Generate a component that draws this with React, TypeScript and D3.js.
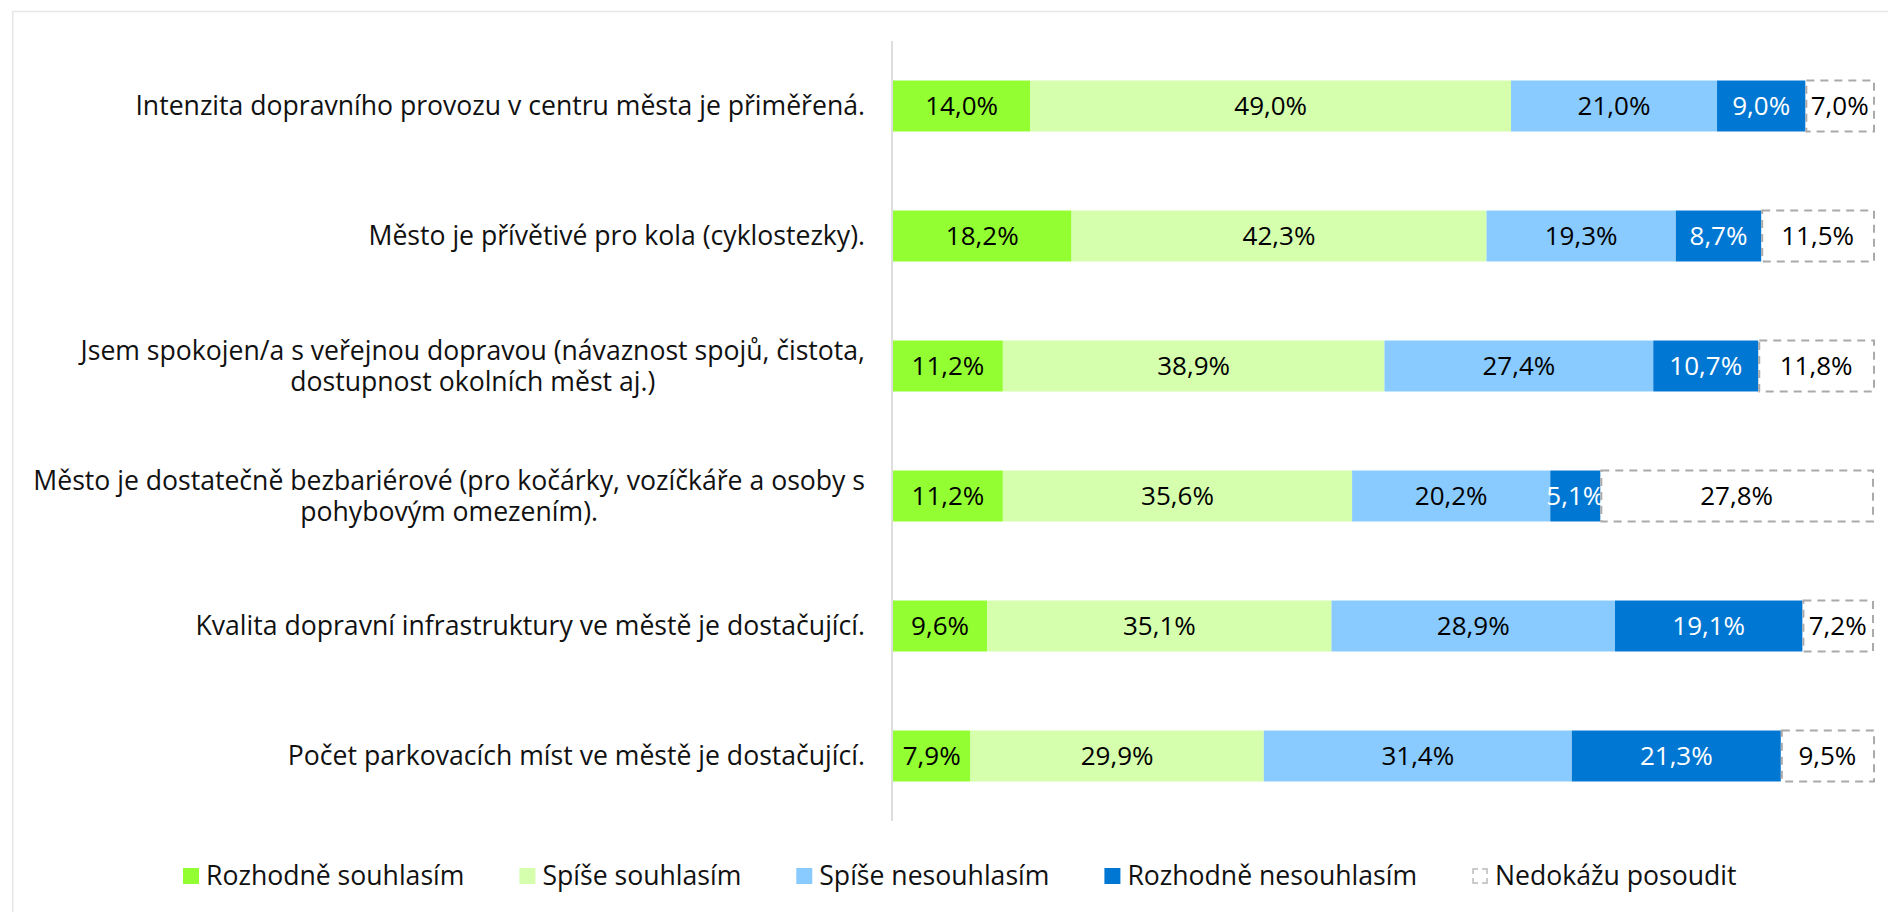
import React, { useEffect, useRef } from "react";
import * as d3 from "d3";

const categories = [
  "Intenzita dopravního provozu v centru města je přiměřená.",
  "Město je přívětivé pro kola (cyklostezky).",
  "Jsem spokojen/a s veřejnou dopravou (návaznost spojů, čistota,|dostupnost okolních měst aj.)",
  "Město je dostatečně bezbariérové (pro kočárky, vozíčkáře a osoby s|pohybovým omezením).",
  "Kvalita dopravní infrastruktury ve městě je dostačující.",
  "Počet parkovacích míst ve městě je dostačující.",
];

const seriesNames = [
  "Rozhodně souhlasím",
  "Spíše souhlasím",
  "Spíše nesouhlasím",
  "Rozhodně nesouhlasím",
  "Nedokážu posoudit",
];

const rozhodneSouhlasim = [14.0, 18.2, 11.2, 11.2, 9.6, 7.9];
const spiseSouhlasim = [49.0, 42.3, 38.9, 35.6, 35.1, 29.9];
const spiseNesouhlasim = [21.0, 19.3, 27.4, 20.2, 28.9, 31.4];
const rozhodneNesouhlasim = [9.0, 8.7, 10.7, 5.1, 19.1, 21.3];
const nedokazuPosoudit = [7.0, 11.5, 11.8, 27.8, 7.2, 9.5];

const seriesValues = [
  rozhodneSouhlasim,
  spiseSouhlasim,
  spiseNesouhlasim,
  rozhodneNesouhlasim,
  nedokazuPosoudit,
];

const colors = ["#93ff33", "#d5ffad", "#89caff", "#0077d2", "#ffffff"];
const textColors = ["#000", "#000", "#000", "#fff", "#000"];

const W = 1888;
const H = 912;
const FONT = "'Open Sans', sans-serif";

const fmt = (v: number) => v.toFixed(1).replace(".", ",") + "%";

const App = () => {
  const ref = useRef<SVGSVGElement>(null);

  useEffect(() => {
    const svg = d3.select(ref.current);
    svg.selectAll("*").remove();

    // frame
    svg.append("path")
      .attr("d", `M12.75,${H} V11.5 H${W}`)
      .attr("fill", "none")
      .attr("stroke", "#e8e8e8")
      .attr("stroke-width", 1.6);

    const x = d3.scaleLinear().domain([0, 100]).range([893, 1874]);
    const y = d3.scaleBand<number>()
      .domain(d3.range(categories.length))
      .range([41, 821])
      .paddingInner(0.608)
      .paddingOuter(0.304);

    // axis line
    svg.append("line")
      .attr("x1", 892).attr("x2", 892)
      .attr("y1", 41).attr("y2", 821)
      .attr("stroke", "#d9d9d9")
      .attr("stroke-width", 1.7);

    // category labels, each block right-aligned, lines centred in the block
    const labelRight = 865;
    categories.forEach((c, i) => {
      const lines = c.split("|");
      const cy = y(i)! + y.bandwidth() / 2;
      const g = svg.append("g");
      const texts = lines.map((ln, k) =>
        g.append("text")
          .attr("y", cy + (k - (lines.length - 1) / 2) * 31)
          .attr("dy", "0.35em")
          .attr("font-family", FONT)
          .attr("font-size", 26.6)
          .attr("fill", "#111")
          .attr("text-anchor", "middle")
          .text(ln)
      );
      const widths = texts.map((t) => (t.node() as SVGTextElement).getComputedTextLength());
      const bw = d3.max(widths) || 0;
      texts.forEach((t) => t.attr("x", labelRight - bw / 2));
    });

    // bars
    categories.forEach((_, i) => {
      let acc = 0;
      seriesValues.forEach((vals, s) => {
        const v = vals[i];
        const x0 = x(acc);
        const x1 = x(acc + v);
        acc += v;
        const r = svg.append("rect")
          .attr("x", x0)
          .attr("y", y(i)!)
          .attr("width", x1 - x0)
          .attr("height", y.bandwidth())
          .attr("fill", colors[s]);
        if (s === 4) {
          r.attr("x", x0 + 1).attr("width", x1 - x0 - 1)
            .attr("stroke", "#aaa")
            .attr("stroke-width", 2)
            .attr("stroke-dasharray", "8,6");
        }
        svg.append("text")
          .attr("x", (x0 + x1) / 2)
          .attr("y", y(i)! + y.bandwidth() / 2)
          .attr("dy", "0.35em")
          .attr("text-anchor", "middle")
          .attr("font-family", FONT)
          .attr("font-size", 26)
          .attr("fill", textColors[s])
          .text(fmt(v));
      });
    });

    // legend
    const legend = svg.append("g");
    let lx = 183;
    const ly = 876;
    seriesNames.forEach((name, s) => {
      const sq = legend.append("rect")
        .attr("x", lx)
        .attr("y", ly - 8)
        .attr("width", 16)
        .attr("height", 16)
        .attr("fill", colors[s]);
      if (s === 4) {
        // dashed box with a gap in the middle of every side
        sq.attr("x", lx + 1).attr("y", ly - 7).attr("width", 14).attr("height", 14)
          .attr("stroke", "#bbb")
          .attr("stroke-width", 1.5)
          .attr("stroke-dasharray", "10,4")
          .attr("stroke-dashoffset", 5);
      }
      const t = legend.append("text")
        .attr("x", lx + 23)
        .attr("y", ly)
        .attr("dy", "0.35em")
        .attr("font-family", FONT)
        .attr("font-size", 26.6)
        .attr("fill", "#111")
        .text(name);
      const tw = (t.node() as SVGTextElement).getComputedTextLength();
      lx += 23 + tw + 55;
    });
  }, []);

  return (
    <svg
      ref={ref}
      width={W}
      height={H}
      style={{ position: "absolute", left: 0, top: 0, background: "#fff" }}
    />
  );
};

export default App;
